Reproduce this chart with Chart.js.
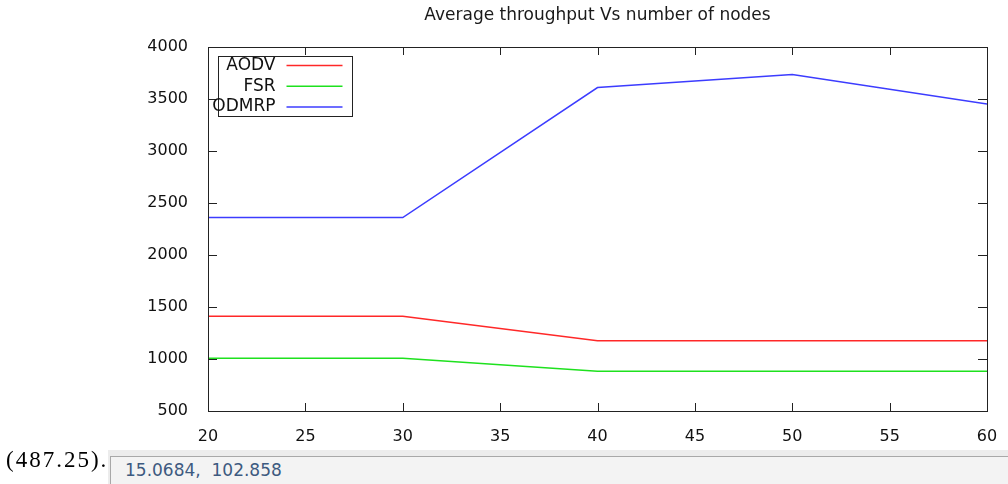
<!DOCTYPE html>
<html>
<head>
<meta charset="utf-8">
<script src="https://cdn.jsdelivr.net/npm/chart.js@4"></script>
<style>
  body { margin: 0; background: #fff; }
  #wrap { position: relative; width: 1008px; height: 484px; overflow: hidden; }
  #note {
    position: absolute; left: 6px; top: 447px;
    font: 23px "Liberation Serif", serif; letter-spacing: 2px; color: #000;
  }
  #bar {
    position: absolute; left: 108px; top: 450px; width: 900px; height: 34px;
    background: #ececec;
  }
  #coords {
    position: absolute; left: 2px; top: 6px; width: 898px; height: 28px;
    background: #f3f3f3; border-left: 1px solid #a8a8a8; border-top: 1px solid #a8a8a8;
    box-sizing: border-box; padding: 3px 0 0 14px;
    font: 17px "DejaVu Sans", sans-serif; color: #3d5a80; white-space: pre;
  }
</style>
</head>
<body>
<div id="wrap">
  <canvas id="chart"></canvas>
  <div id="note">(487.25).</div>
  <div id="bar"><div id="coords">15.0684,  102.858</div></div>
</div>
<script>
const nodes = [20, 30, 40, 50, 60];
const aodv = [1410, 1410, 1175, 1175, 1175];
const fsr = [1008, 1008, 882, 882, 882];
const odmrp = [2360, 2360, 3610, 3735, 3452];
const seriesNames = ["AODV", "FSR", "ODMRP"];

function points(values) {
  return nodes.map((n, i) => ({ x: n, y: values[i] }));
}

// gnuplot style frame: box, inward ticks on all sides, legend with right aligned text
const gnuplotFrame = {
  id: "gnuplotFrame",
  afterDraw(chart) {
    const ctx = chart.ctx;
    const a = chart.chartArea;
    const xs = chart.scales.x;
    const ys = chart.scales.y;
    ctx.save();
    ctx.strokeStyle = "#222";
    ctx.lineWidth = 1;
    ctx.strokeRect(Math.round(a.left) + 0.5, Math.round(a.top) + 0.5,
      Math.round(a.right - a.left), Math.round(a.bottom - a.top));
    ctx.beginPath();
    xs.ticks.forEach((t) => {
      const px = Math.round(xs.getPixelForValue(t.value)) + 0.5;
      ctx.moveTo(px, a.bottom); ctx.lineTo(px, a.bottom - 8);
      ctx.moveTo(px, a.top); ctx.lineTo(px, a.top + 8);
    });
    ys.ticks.forEach((t) => {
      const py = Math.round(ys.getPixelForValue(t.value)) + 0.5;
      ctx.moveTo(a.left, py); ctx.lineTo(a.left + 9, py);
      ctx.moveTo(a.right, py); ctx.lineTo(a.right - 9, py);
    });
    ctx.stroke();

    // legend
    const bx = Math.round(a.left) + 10.5;
    const by = Math.round(a.top) + 9.5;
    ctx.strokeRect(bx, by, 134, 60);
    ctx.font = "17px 'DejaVu Sans'";
    ctx.textAlign = "right";
    ctx.textBaseline = "middle";
    chart.data.datasets.forEach((ds, i) => {
      const y = by + 9 + i * 20.7;
      ctx.fillStyle = "#111";
      ctx.fillText(ds.label, bx + 57, y);
      ctx.strokeStyle = ds.borderColor;
      ctx.lineWidth = 1.5;
      ctx.beginPath();
      ctx.moveTo(bx + 68, y);
      ctx.lineTo(bx + 124, y);
      ctx.stroke();
    });
    ctx.restore();
  },
};

new Chart(document.getElementById("chart"), {
  type: "line",
  data: {
    datasets: [
      { label: seriesNames[0], data: points(aodv), borderColor: "rgb(255, 40, 40)" },
      { label: seriesNames[1], data: points(fsr), borderColor: "rgb(30, 225, 30)" },
      { label: seriesNames[2], data: points(odmrp), borderColor: "rgb(60, 60, 255)" },
    ],
  },
  options: {
    responsive: true,
    maintainAspectRatio: false,
    animation: false,
    elements: {
      line: { borderWidth: 1.5, tension: 0, fill: false },
      point: { radius: 0 },
    },
    layout: { padding: { left: 0, right: 21, top: 0, bottom: 33 } },
    plugins: {
      legend: { display: false },
      tooltip: { enabled: false },
      title: {
        display: true,
        fullSize: false,
        text: "Average throughput Vs number of nodes",
        color: "#1a1a1a",
        font: { family: "DejaVu Sans", size: 17, weight: "normal" },
        padding: { top: 5, bottom: 21.6 },
      },
    },
    scales: {
      x: {
        type: "linear",
        min: 20,
        max: 60,
        grid: { display: false },
        border: { display: false },
        ticks: {
          stepSize: 5,
          padding: 8,
          color: "#111",
          font: { family: "DejaVu Sans", size: 16 },
          callback: (v) => String(v),
        },
        afterFit(scale) { scale.height = 40; },
      },
      y: {
        min: 500,
        max: 4000,
        grid: { display: false },
        border: { display: false },
        ticks: {
          stepSize: 500,
          padding: 12,
          color: "#111",
          font: { family: "DejaVu Sans", size: 16 },
          callback: (v) => String(v),
        },
        afterFit(scale) { scale.width = 208; },
      },
    },
  },
  plugins: [gnuplotFrame],
});
</script>
</body>
</html>
